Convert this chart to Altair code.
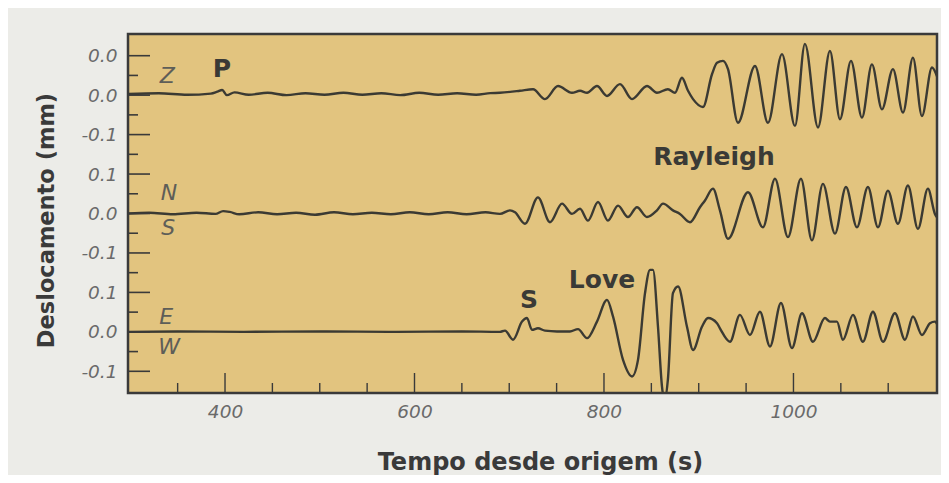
import altair as alt
import pandas as pd

# ---------------- data ----------------
# Z (vertical) component: time (s), displacement (mm)
z_t = [298, 330, 360, 385, 392, 397, 402, 410, 425, 445, 465, 485, 505, 525, 545, 565, 585, 605, 625, 645, 665, 680,
       690.2, 711.3, 725.1, 737.7, 751.5, 766.2, 774.7, 782.1, 792.6, 803.2, 816.9, 829.6, 845.4, 855.9, 867.5, 874.9,
       882.3, 888.7, 894.0, 904.5, 914.0, 919.3, 925.6, 930.9, 941.4, 959.4, 973.1, 987.9, 1001.6, 1012.1, 1025.9,
       1038.5, 1049.1, 1060.7, 1072.3, 1082.8, 1093.4, 1105.0, 1115.6, 1126.1, 1135.6, 1146.2, 1151.5]
z_v = [0, 0.002, -0.002, 0.001, 0.006, 0.010, -0.003, 0.004, -0.002, 0.003, -0.003, 0.002, -0.002, 0.003, -0.002,
       0.002, -0.003, 0.003, -0.002, 0.002, -0.002, 0.002,
       0.003, 0.008, 0.012, -0.013, 0.020, 0.003, 0.008, 0.003, 0.020, -0.005, 0.025, -0.013, 0.020, 0.003, 0.012, 0.003,
       0.041, 0.008, -0.013, -0.033, 0.050, 0.079, 0.084, 0.063, -0.073, 0.071, -0.073, 0.101, -0.081, 0.127, -0.085,
       0.109, -0.064, 0.084, -0.060, 0.075, -0.039, 0.063, -0.047, 0.092, -0.056, 0.067, 0.045]

# N-S component
n_t = [298, 320, 345, 370, 390, 398, 405, 415, 435, 455, 475, 495, 515, 535, 555, 575, 595, 615, 635, 655, 675,
       690.2, 700.8, 706.1, 716.6, 730.3, 743.0, 755.7, 766.2, 774.7, 783.1, 793.7, 804.2, 814.8, 825.3, 834.8, 845.4,
       855.9, 862.3, 872.8, 880.2, 890.8, 901.3, 906.6, 915.0, 922.4,
       930.9, 952.0, 967.8, 980.5, 994.2, 1007.9, 1019.5, 1031.1, 1043.8, 1055.4, 1067.0, 1078.6, 1089.2, 1099.7,
       1110.3, 1120.8, 1131.4, 1141.9, 1149.3, 1151.5]
n_v = [0, 0.002, -0.002, 0.002, -0.001, 0.006, 0.004, -0.002, 0.003, -0.002, 0.002, -0.003, 0.003, -0.002, 0.002,
       -0.002, 0.003, -0.002, 0.003, -0.002, 0.003,
       -0.001, 0.008, 0.003, -0.026, 0.041, -0.022, 0.025, -0.001, 0.012, -0.018, 0.029, -0.018, 0.020, -0.009, 0.016,
       -0.009, 0.008, 0.025, 0.008, -0.001, -0.022, 0.016, 0.033, 0.063, 0.008,
       -0.064, 0.054, -0.035, 0.088, -0.060, 0.088, -0.068, 0.075, -0.051, 0.067, -0.035, 0.067, -0.035, 0.058,
       -0.026, 0.071, -0.039, 0.063, -0.001, -0.010]

# E-W component
e_t = [298, 350, 420, 500, 580, 650, 690,
       695.5, 704.0, 713.5, 718.7, 724.0, 730.3, 737.7, 750.4, 764.1, 772.6,
       782.1, 792.6, 803.2, 809.5, 820.1, 829.6, 835.9, 843.3, 848.6, 851.7,
       857.0, 861.2, 863.8, 867.5, 872.8, 878.2, 887.6, 894.0, 903.4, 909.8,
       919.3, 922.4, 933.0, 943.5, 954.1, 964.6, 975.2, 986.8, 998.4, 1009.0,
       1020.6, 1033.2, 1038.5, 1045.9, 1052.2, 1062.8, 1073.3, 1083.9, 1094.5, 1107.1,
       1117.7, 1126.1, 1135.6, 1144.1, 1149.3, 1151.5]
e_v = [0, 0.001, 0, 0.001, 0, 0.001, 0,
       0.003, -0.020, 0.026, 0.035, 0.005, 0.009, 0.003, 0.001, 0.001, 0.007,
       -0.016, 0.026, 0.081, 0.039, -0.071, -0.113, -0.071, 0.098, 0.157, 0.157,
       0.013, -0.138, -0.175, -0.120, 0.098, 0.115, 0.013, -0.046, 0.013, 0.035,
       0.022, 0.009, -0.025, 0.043, -0.008, 0.051, -0.037, 0.073, -0.041, 0.047,
       -0.025, 0.035, 0.026, 0.026, -0.020, 0.043, -0.025, 0.051, -0.025, 0.047,
       -0.020, 0.039, -0.008, 0.022, 0.026, 0.020]

trace_names = ["Z", "N", "E"]
trace_offsets = [0.603, 0.30, 0.0]   # vertical stacking of the three traces

# y axis tick values and their printed labels
y_major = [-0.1, 0.0, 0.1, 0.2, 0.3, 0.4, 0.5, 0.6, 0.7]
y_labels = ["-0.1", "0.0", "0.1", "-0.1", "0.0", "0.1", "-0.1", "0.0", "0.0"]
y_minor = [-0.05, 0.05, 0.15, 0.25, 0.35, 0.45, 0.55, 0.65]

# x axis ticks
x_labels = [400, 600, 800, 1000]
x_major = [400, 600, 800, 1000]
x_minor = [350, 450, 500, 550, 650, 700, 750, 850, 900, 950, 1050, 1100]

# phase annotations
phase_text = ["P", "Rayleigh", "S", "Love"]
phase_t = [396.8, 916.1, 720.8, 797.9]
phase_y = [0.666, 0.442, 0.081, 0.131]

# component labels
comp_text = ["Z", "N", "S", "E", "W"]
comp_t = [339.0, 340.9, 340.0, 337.8, 340.9]
comp_y = [0.649, 0.352, 0.263, 0.038, -0.038]

# ---------------- build tables ----------------
rows = []
for name, off, ts, vs in zip(trace_names, trace_offsets, [z_t, n_t, e_t], [z_v, n_v, e_v]):
    assert len(ts) == len(vs), name
    for t, v in zip(ts, vs):
        rows.append({"trace": name, "t": t, "y": v + off})
traces = pd.DataFrame(rows)

XDOM = [297.6, 1151.5]
YDOM = [-0.155, 0.755]
W, H = 809, 359

xs = alt.Scale(domain=XDOM, nice=False, zero=False)
ys = alt.Scale(domain=YDOM, nice=False, zero=False)

FONT = "DejaVu Sans"
label_expr = "[" + ",".join("'" + s + "'" for s in y_labels) + "][round(datum.value*10)+1]"

x_axis = alt.Axis(
    values=x_labels, format="d", ticks=False, tickSize=0, domain=False, grid=False,
    labelFont=FONT, labelFontSize=18.5, labelFontStyle="italic", labelColor="#6a6a6a",
    labelPadding=9,
    title="Tempo desde origem (s)", titleFont=FONT, titleFontSize=24, titleFontWeight="bold",
    titleColor="#3a3a3a", titleX=412, titleY=69, titleAlign="center", titleBaseline="middle")
y_axis = alt.Axis(
    values=y_major, labelExpr=label_expr, ticks=False, tickSize=0, domain=False, grid=False,
    labelFont=FONT, labelFontSize=18.5, labelFontStyle="italic", labelColor="#6a6a6a",
    labelPadding=11,
    title="Deslocamento (mm)", titleFont=FONT, titleFontSize=22.5, titleFontWeight="bold",
    titleColor="#3a3a3a", titleX=-82, titleY=186, titleAngle=270,
    titleAlign="center", titleBaseline="middle")

lines = alt.Chart(traces).mark_line(
    color="#3b3a33", strokeWidth=2.4, interpolate="monotone", clip=True
).encode(
    x=alt.X("t:Q", scale=xs, axis=x_axis),
    y=alt.Y("y:Q", scale=ys, axis=y_axis),
    detail="trace:N",
)

tick_color = "#3a3a3a"
ymaj = alt.Chart(pd.DataFrame({"y": y_major})).mark_rule(color=tick_color, strokeWidth=1.6).encode(
    y=alt.Y("y:Q", scale=ys, axis=y_axis), x=alt.value(0), x2=alt.value(22))
ymin = alt.Chart(pd.DataFrame({"y": y_minor})).mark_rule(color=tick_color, strokeWidth=1.6).encode(
    y=alt.Y("y:Q", scale=ys, axis=y_axis), x=alt.value(0), x2=alt.value(10))
xmaj = alt.Chart(pd.DataFrame({"t": x_major})).mark_rule(color=tick_color, strokeWidth=1.4).encode(
    x=alt.X("t:Q", scale=xs, axis=x_axis), y=alt.value(H), y2=alt.value(H - 20))
xmin = alt.Chart(pd.DataFrame({"t": x_minor})).mark_rule(color=tick_color, strokeWidth=1.4).encode(
    x=alt.X("t:Q", scale=xs, axis=x_axis), y=alt.value(H), y2=alt.value(H - 10))

phases = alt.Chart(pd.DataFrame({"t": phase_t, "y": phase_y, "s": phase_text})).mark_text(
    font=FONT, fontSize=25, fontWeight="bold", color="#3a3a36", align="center", baseline="middle"
).encode(x=alt.X("t:Q", scale=xs, axis=x_axis), y=alt.Y("y:Q", scale=ys, axis=y_axis), text="s:N")

comps = alt.Chart(pd.DataFrame({"t": comp_t, "y": comp_y, "s": comp_text})).mark_text(
    font=FONT, fontSize=22, fontStyle="italic", color="#5e5e58", align="center", baseline="middle"
).encode(x=alt.X("t:Q", scale=xs, axis=x_axis), y=alt.Y("y:Q", scale=ys, axis=y_axis), text="s:N")

chart = alt.layer(lines, ymaj, ymin, xmaj, xmin, phases, comps).properties(
    width=W, height=H,
    padding={"left": 120, "top": 26, "right": 4, "bottom": 82},
    autosize="none",
    background="#ECECE8",
).configure_view(
    fill="#E2C47F", stroke="#3a3a3a", strokeWidth=2.5
)

chart.save("out.html", embed_options={"renderer": "svg", "actions": False})
